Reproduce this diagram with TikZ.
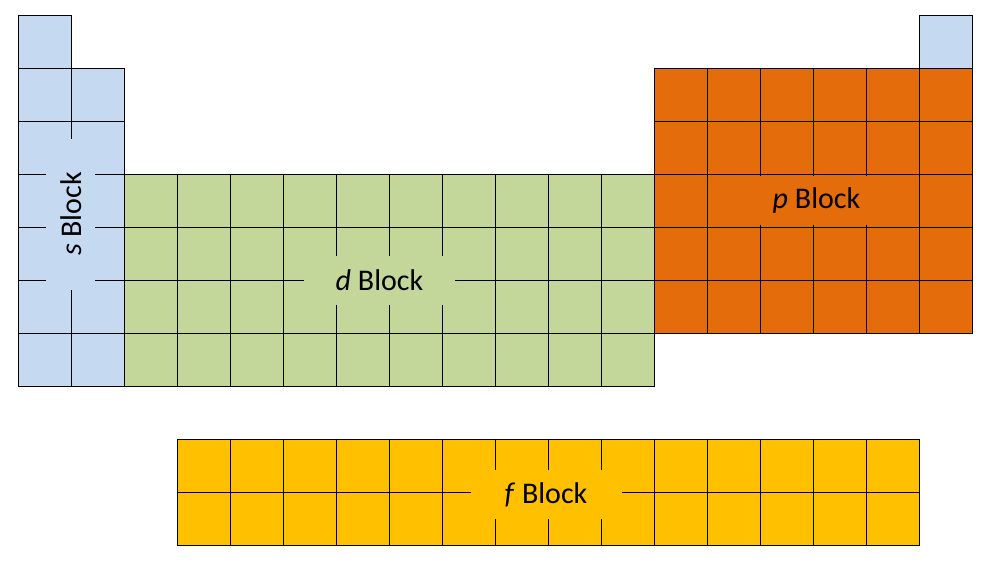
\documentclass[tikz,border=0pt]{standalone}
\usepackage{fontspec}
\setmainfont{Carlito}
\usepackage{xcolor}

\definecolor{sBlue}{RGB}{197,217,241}
\definecolor{dGreen}{RGB}{196,215,155}
\definecolor{pOrange}{RGB}{228,108,10}
\definecolor{fGold}{RGB}{255,192,0}

\tikzset{
  cell/.style={draw=black, line width=0.75pt},
  blockLabel/.style={inner sep=0pt, minimum width=113.25pt, minimum height=36.75pt,
    font=\fontsize{22.5}{27}\selectfont}
}

\begin{document}
\begin{tikzpicture}[x=0.75pt,y=0.75pt,yscale=-1,xscale=1]
\useasboundingbox (0,0) rectangle (992,568);

%s block: H column, alkali and alkaline earth
\draw [cell, fill=sBlue] (18.3,15) rectangle +(53,53) ;
\foreach \r in {1,...,6}
  \foreach \c in {0,1}
    \draw [cell, fill=sBlue] ({18.3+53*\c},{15+53*\r}) rectangle +(53,53) ;
%He
\draw [cell, fill=sBlue] ({18.3+53*17},15) rectangle +(53,53) ;

%d block
\foreach \r in {3,...,6}
  \foreach \c in {2,...,11}
    \draw [cell, fill=dGreen] ({18.3+53*\c},{15+53*\r}) rectangle +(53,53) ;

%p block
\foreach \r in {1,...,5}
  \foreach \c in {12,...,17}
    \draw [cell, fill=pOrange] ({18.3+53*\c},{15+53*\r}) rectangle +(53,53) ;

%f block
\foreach \r in {8,9}
  \foreach \c in {3,...,16}
    \draw [cell, fill=fGold] ({18.3+53*\c},{15+53*\r}) rectangle +(53,53) ;

% Text Node
\node [blockLabel, fill=sBlue, rotate=90] (sLabel) at (70.8,214) {\textit{s} Block};
% Text Node
\node [blockLabel, fill=dGreen] (dLabel) at (379.5,280.5) {\textit{d} Block};
% Text Node
\node [blockLabel, fill=pOrange] (pLabel) at (816.5,200.5) {\textit{p} Block};
% Text Node
\node [blockLabel, fill=fGold] (fLabel) at (546,494.5) {\textit{f} Block};

\end{tikzpicture}
\end{document}
